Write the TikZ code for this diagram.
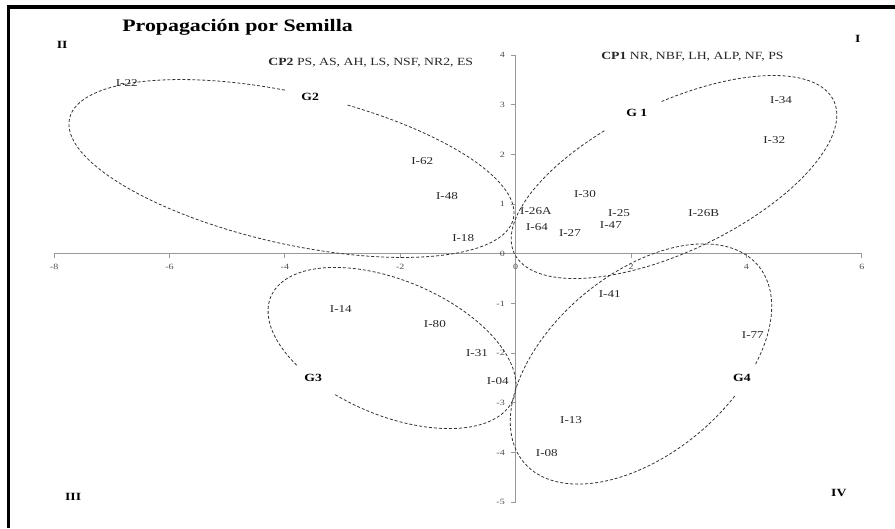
\documentclass[tikz,border=0pt]{standalone}
\usepackage{fontspec}
\setmainfont{Liberation Serif}[FakeStretch=1.25]
\newfontfamily\negrita{Liberation Serif Bold}[FakeStretch=1.25]

\begin{document}
\begin{tikzpicture}[x=57.7pt,y=49.67pt]
\tikzstyle{lbl}=[font=\fontsize{10.5}{12}\selectfont,text=black!85,inner sep=0pt]
\tikzstyle{grp}=[font=\negrita\fontsize{11}{13}\selectfont,inner sep=0pt]
\tikzstyle{cuad}=[font=\negrita\fontsize{11}{13}\selectfont,inner sep=0pt]
\tikzstyle{tick}=[font=\fontsize{8}{9}\selectfont,text=black!70,inner sep=0pt]
\tikzstyle{eje}=[draw=black!40,line width=1pt]
\tikzstyle{elipse}=[draw=black!80,line width=0.8pt,dash pattern=on 3pt off 2pt]
\useasboundingbox (-515.7pt,-274.3pt) rectangle (379.3pt,253.7pt);
% marco
\draw[line width=3.5pt] (-507.2pt,-274.3pt) -- (-507.2pt,246.7pt) -- (379.3pt,246.7pt);
% ejes
\draw[eje] (-8,0) -- (6,0);
\draw[eje] (0,-5) -- (0,4);
\foreach \x in {-8,-6,...,6} {
  \draw[eje] (\x,0) -- (\x,-0.08);
  \node[tick] at (\x,-0.27) {\x};
}
\foreach \y in {-5,...,4} {
  \draw[eje] (0,\y) -- (-0.08,\y);
  \node[tick,anchor=east] at (-0.185,\y) {\y};
}
% grupos
\begin{scope}[x=1pt,y=1pt]
\draw[elipse,rotate around={-12.7:(-224.2,85.2)}] (-224.2,85.2) ++(96:227.5 and 75.4)
  arc[start angle=96,end angle=440,x radius=227.5,y radius=75.4];
\draw[elipse,rotate around={25.6:(158.3,76.7)}] (158.3,76.7) ++(104:177 and 74)
  arc[start angle=104,end angle=443,x radius=177,y radius=74];
\draw[elipse,rotate around={-23:(-123.7,-94.3)}] (-123.7,-94.3) ++(255:131.6 and 67.4)
  arc[start angle=255,end angle=592,x radius=131.6,y radius=67.4];
\draw[elipse,rotate around={40:(125.3,-110.3)}] (125.3,-110.3) ++(305:153 and 90)
  arc[start angle=305,end angle=650,x radius=153,y radius=90];
\end{scope}
% titulos
\node[font=\negrita\fontsize{17.5}{20}\selectfont] (titulo) at (-4.82,4.56) {Propagación por Semilla};
\node[lbl,font=\fontsize{11}{13}\selectfont,anchor=west] (cp2) at (-4.29,3.84) {{\negrita CP2} PS, AS, AH, LS, NSF, NR2, ES};
\node[lbl,font=\fontsize{11}{13}\selectfont,anchor=west] (cp1) at (1.48,3.96) {{\negrita CP1} NR, NBF, LH, ALP, NF, PS};
\node[cuad] (q1) at (5.93,4.32) {I};
\node[cuad] (q2) at (-7.86,4.20) {II};
\node[cuad] (q3) at (-7.67,-4.90) {III};
\node[cuad] (q4) at (5.60,-4.82) {IV};
\node[grp] (g1) at (2.10,2.83) {G 1};
\node[grp] (g2) at (-3.56,3.15) {G2};
\node[grp] (g3) at (-3.51,-2.50) {G3};
\node[grp] (g4) at (3.92,-2.50) {G4};
% introducciones
\node[lbl] (i22) at (-6.74,3.44) {I-22};
\node[lbl] (i62) at (-1.62,1.87) {I-62};
\node[lbl] (i48) at (-1.19,1.16) {I-48};
\node[lbl] (i18) at (-0.91,0.32) {I-18};
\node[lbl] (i26a) at (0.35,0.86) {I-26A};
\node[lbl] (i64) at (0.37,0.54) {I-64};
\node[lbl] (i27) at (0.94,0.42) {I-27};
\node[lbl] (i30) at (1.20,1.20) {I-30};
\node[lbl] (i25) at (1.79,0.82) {I-25};
\node[lbl] (i47) at (1.65,0.58) {I-47};
\node[lbl] (i26b) at (3.26,0.82) {I-26B};
\node[lbl] (i32) at (4.48,2.29) {I-32};
\node[lbl] (i34) at (4.60,3.09) {I-34};
\node[lbl] (i14) at (-3.03,-1.11) {I-14};
\node[lbl] (i80) at (-1.40,-1.42) {I-80};
\node[lbl] (i31) at (-0.67,-2.00) {I-31};
\node[lbl] (i04) at (-0.31,-2.56) {I-04};
\node[lbl] (i41) at (1.63,-0.81) {I-41};
\node[lbl] (i77) at (4.11,-1.64) {I-77};
\node[lbl] (i13) at (0.96,-3.35) {I-13};
\node[lbl] (i08) at (0.54,-4.01) {I-08};
\end{tikzpicture}
\end{document}
